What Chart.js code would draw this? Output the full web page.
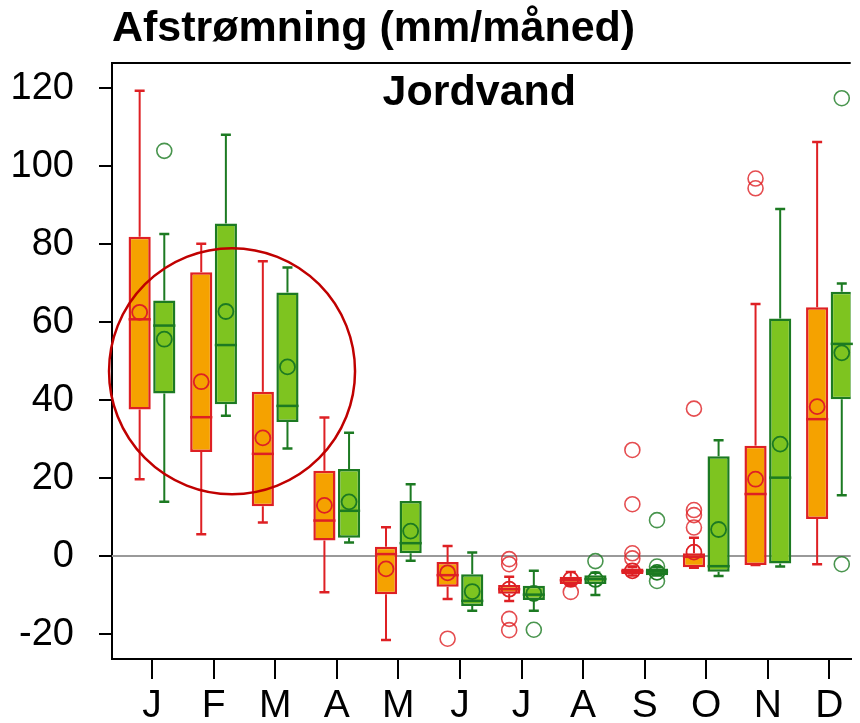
<!DOCTYPE html>
<html>
<head>
<meta charset="utf-8">
<script src="https://cdn.jsdelivr.net/npm/chart.js@4/dist/chart.umd.min.js"></script>
<style>
  html, body { margin: 0; padding: 0; background: #fff; }
  #wrap { width: 860px; height: 723px; }
</style>
</head>
<body>
<div id="wrap"><canvas id="afstromningChart" width="860" height="723"></canvas></div>
<script>
// Månedsbogstaver på x-aksen
const months = ["J", "F", "M", "A", "M", "J", "J", "A", "S", "O", "N", "D"];
const yTicks = [-20, 0, 20, 40, 60, 80, 100, 120];

// Orange serie (rød kant)
const orangeLow    = [19.7, 5.6, 8.6, -9.3, -21.5, -11.0, -11.5, -7.5, -5.0, -3.0, -2.3, -2.1];
const orangeQ1     = [37.6, 26.7, 12.8, 4.0, -9.8, -7.9, -9.7, -7.2, -4.6, -2.9, -2.3, 9.5];
const orangeMedian = [60.7, 35.6, 26.2, 9.1, 0.5, -4.9, -8.5, -6.2, -3.9, -0.2, 15.9, 35.1];
const orangeQ3     = [81.9, 72.8, 42.1, 21.9, 2.4, -1.5, -7.4, -5.3, -3.2, 0.7, 28.3, 63.8];
const orangeHigh   = [119.3, 80.1, 75.6, 35.5, 7.4, 2.6, -5.3, -4.1, -2.8, 4.7, 64.6, 106.2];
const orangeMean   = [62.5, 44.7, 30.3, 13.0, -3.3, -4.3, -8.5, -6.0, -3.8, 1.0, 19.7, 38.3];
const orangeOutliers = [[], [], [], [], [], [-21.2], [-0.8, -2.1, -16.1, -19.0], [-9.2],
                        [27.2, 13.3, 0.7, -0.6], [37.8, 11.8, 10.5, 7.3], [96.8, 94.3], []];

// Grøn serie (mørkegrøn kant)
const greenLow    = [13.9, 36.0, 27.6, 3.5, -1.2, -14.0, -14.0, -10.0, -5.0, -5.1, -2.7, 15.6];
const greenQ1     = [41.7, 38.9, 34.4, 4.7, 0.7, -12.8, -11.3, -7.2, -4.9, -4.0, -1.9, 40.2];
const greenMedian = [59.1, 54.1, 38.5, 11.6, 3.3, -11.5, -9.9, -5.9, -4.0, -2.6, 20.1, 54.4];
const greenQ3     = [65.5, 85.3, 67.6, 22.3, 14.1, -4.7, -7.6, -4.9, -3.2, 25.6, 60.9, 67.8];
const greenHigh   = [82.6, 108.0, 74.0, 31.6, 18.4, 0.9, -3.8, -4.3, -2.9, 29.7, 89.0, 69.9];
const greenMean   = [55.6, 62.7, 48.5, 13.9, 6.4, -9.1, -9.6, -6.0, -4.2, 6.8, 28.7, 52.1];
const greenOutliers = [[103.9], [], [], [], [], [], [-18.9], [-1.3],
                       [9.2, -2.7, -6.4], [], [], [117.4, -2.1]];

const RED = "rgb(222, 32, 36)";
const ORANGE = "rgb(245, 162, 0)";
const DKGREEN = "rgb(28, 122, 34)";
const GREEN = "rgb(126, 196, 32)";
const FONT = "'Liberation Sans', Arial, sans-serif";

const boxData = (q1, q3) => q1.map((v, i) => ({ x: i, y: [v, q3[i]] }));
const meanData = (mean, shift) => mean.map((v, i) => ({ x: i + shift, y: v }));
const outlierData = (list, shift) => {
    const pts = [];
    list.forEach((vals, i) => vals.forEach(v => pts.push({ x: i + shift, y: v })));
    return pts;
};

// whiskers, medianer, nul-linje, ramme og den røde cirkel
const boxExtras = {
    id: "boxExtras",
    beforeDatasetsDraw(chart) {
        const { ctx, chartArea, scales } = chart;
        const y0 = scales.y.getPixelForValue(0);
        ctx.save();
        ctx.strokeStyle = "#999";
        ctx.lineWidth = 2;
        ctx.beginPath();
        ctx.moveTo(chartArea.left, y0);
        ctx.lineTo(chartArea.right, y0);
        ctx.stroke();

        const sets = [
            { meta: chart.getDatasetMeta(0), lo: orangeLow, q1: orangeQ1, q3: orangeQ3, hi: orangeHigh, color: RED },
            { meta: chart.getDatasetMeta(1), lo: greenLow, q1: greenQ1, q3: greenQ3, hi: greenHigh, color: DKGREEN }
        ];
        sets.forEach(s => {
            ctx.strokeStyle = s.color;
            ctx.lineWidth = 2;
            s.meta.data.forEach((bar, i) => {
                const x = bar.x;
                const yLo = scales.y.getPixelForValue(s.lo[i]);
                const yQ1 = scales.y.getPixelForValue(s.q1[i]);
                const yQ3 = scales.y.getPixelForValue(s.q3[i]);
                const yHi = scales.y.getPixelForValue(s.hi[i]);
                ctx.beginPath();
                ctx.moveTo(x, yQ3); ctx.lineTo(x, yHi);
                ctx.moveTo(x, yQ1); ctx.lineTo(x, yLo);
                ctx.stroke();
                ctx.lineWidth = 2.5;
                ctx.beginPath();
                ctx.moveTo(x - 5, yHi); ctx.lineTo(x + 5, yHi);
                ctx.moveTo(x - 5, yLo); ctx.lineTo(x + 5, yLo);
                ctx.stroke();
                ctx.lineWidth = 2;
            });
        });
        ctx.restore();
    },
    afterDatasetDraw(chart, args) {
        if (args.index > 1) return;
        const { ctx, scales } = chart;
        const med = args.index === 0 ? orangeMedian : greenMedian;
        ctx.save();
        ctx.strokeStyle = args.index === 0 ? RED : DKGREEN;
        ctx.lineWidth = 2.5;
        args.meta.data.forEach((bar, i) => {
            const y = scales.y.getPixelForValue(med[i]);
            ctx.beginPath();
            ctx.moveTo(bar.x - bar.width / 2, y);
            ctx.lineTo(bar.x + bar.width / 2, y);
            ctx.stroke();
        });
        ctx.restore();
    },
    afterDraw(chart) {
        const { ctx, chartArea, scales } = chart;
        ctx.save();
        // øverste rammelinje
        ctx.strokeStyle = "#000";
        ctx.lineWidth = 2;
        ctx.beginPath();
        ctx.moveTo(chartArea.left - 1, chartArea.top);
        ctx.lineTo(chartArea.right, chartArea.top);
        ctx.stroke();

        ctx.fillStyle = "#000";
        ctx.font = "bold 43px " + FONT;
        ctx.textAlign = "center";
        ctx.textBaseline = "alphabetic";
        ctx.fillText("Jordvand", (chartArea.left + chartArea.right) / 2 - 2, chartArea.top + 42);

        // rød markeringscirkel
        ctx.strokeStyle = "rgb(192, 0, 0)";
        ctx.lineWidth = 2.5;
        ctx.beginPath();
        ctx.arc(scales.x.getPixelForValue(1.3), scales.y.getPixelForValue(47.4), 123, 0, Math.PI * 2);
        ctx.stroke();
        ctx.restore();
    }
};

const ctx = document.getElementById("afstromningChart").getContext("2d");

new Chart(ctx, {
    type: "bar",
    data: {
        datasets: [
            {
                label: "orange",
                data: boxData(orangeQ1, orangeQ3),
                backgroundColor: ORANGE,
                borderColor: RED,
                borderWidth: 2.5,
                borderSkipped: false,
                order: 2
            },
            {
                label: "grøn",
                data: boxData(greenQ1, greenQ3),
                backgroundColor: GREEN,
                borderColor: DKGREEN,
                borderWidth: 2.5,
                borderSkipped: false,
                order: 2
            },
            {
                type: "scatter",
                label: "middel orange",
                data: meanData(orangeMean, -0.2),
                pointRadius: 7.5,
                borderWidth: 1.8,
                borderColor: RED,
                backgroundColor: "rgba(0,0,0,0)",
                order: 1
            },
            {
                type: "scatter",
                label: "middel grøn",
                data: meanData(greenMean, 0.2),
                pointRadius: 7.5,
                borderWidth: 1.8,
                borderColor: DKGREEN,
                backgroundColor: "rgba(0,0,0,0)",
                order: 1
            },
            {
                type: "scatter",
                label: "ekstremer orange",
                data: outlierData(orangeOutliers, -0.2),
                pointRadius: 7.5,
                borderWidth: 1.6,
                borderColor: "rgba(222, 32, 36, 0.8)",
                backgroundColor: "rgba(0,0,0,0)",
                order: 1
            },
            {
                type: "scatter",
                label: "ekstremer grøn",
                data: outlierData(greenOutliers, 0.2),
                pointRadius: 7.5,
                borderWidth: 1.6,
                borderColor: "rgba(28, 122, 34, 0.8)",
                backgroundColor: "rgba(0,0,0,0)",
                order: 1
            }
        ]
    },
    options: {
        responsive: false,
        animation: false,
        layout: { padding: 0 },
        plugins: {
            legend: { display: false },
            tooltip: { enabled: false },
            title: {
                display: true,
                text: "Afstrømning (mm/måned)",
                align: "start",
                fullSize: false,
                color: "#000",
                font: { family: FONT, size: 43, weight: "bold", lineHeight: 1.2 },
                padding: { top: 3, bottom: 8.5 }
            }
        },
        scales: {
            x: {
                type: "linear",
                offset: false,
                min: -0.649,
                max: 11.345,
                ticks: {
                    stepSize: 1,
                    includeBounds: false,
                    autoSkip: false,
                    maxRotation: 0,
                    color: "#000",
                    padding: 4,
                    font: { family: FONT, size: 39 },
                    callback: v => months[v]
                },
                grid: {
                    offset: false,
                    drawOnChartArea: false,
                    drawTicks: true,
                    tickLength: 20,
                    color: "#000",
                    lineWidth: 2
                },
                border: { display: true, color: "#000", width: 2 },
                afterFit: s => { s.height = 64; }
            },
            y: {
                min: -26.4,
                max: 126.4,
                ticks: {
                    stepSize: 20,
                    includeBounds: false,
                    color: "#000",
                    padding: 25,
                    font: { family: FONT, size: 38 },
                    callback: v => (yTicks.includes(v) ? v : "")
                },
                grid: {
                    drawOnChartArea: false,
                    drawTicks: true,
                    tickLength: 13,
                    color: "#000",
                    lineWidth: 2
                },
                border: { display: true, color: "#000", width: 2 },
                afterFit: s => { s.width = 112; }
            }
        }
    },
    plugins: [boxExtras]
});
</script>
</body>
</html>
